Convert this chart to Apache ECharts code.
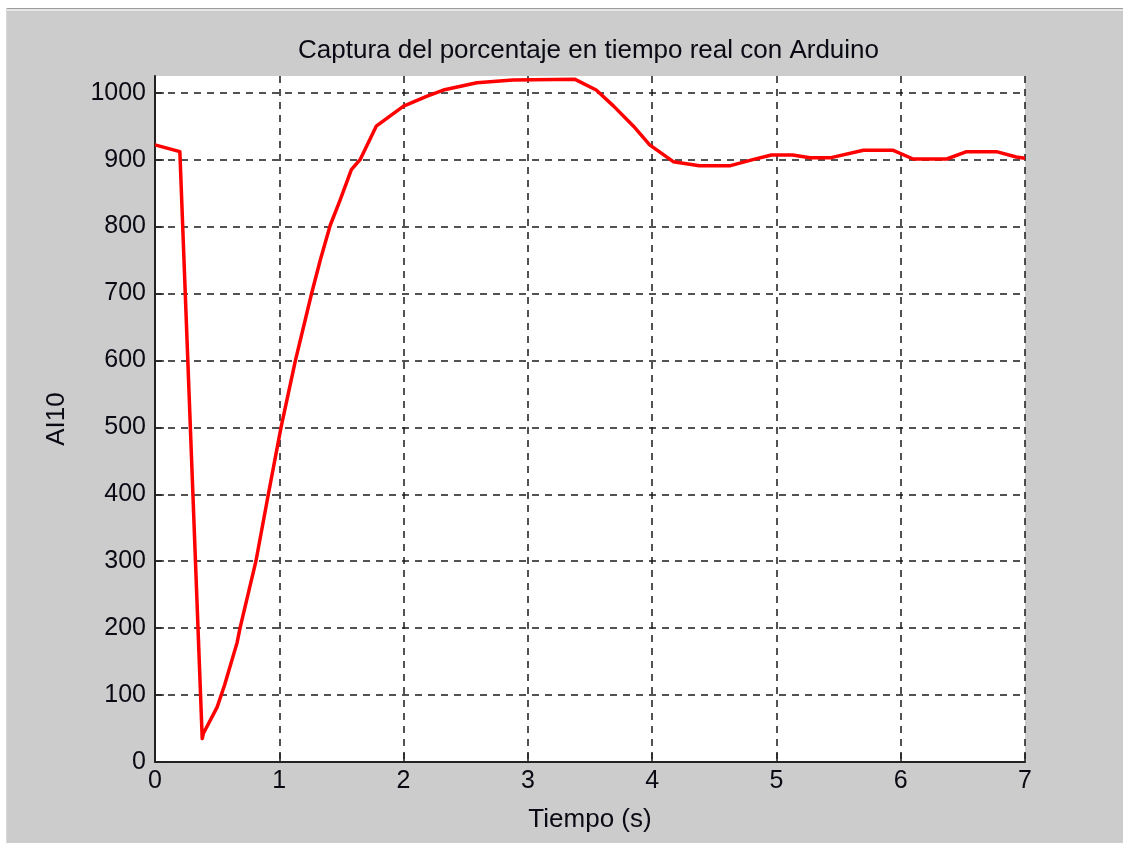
<!DOCTYPE html>
<html>
<head>
<meta charset="utf-8">
<script src="https://cdn.jsdelivr.net/npm/echarts@6/dist/echarts.min.js"></script>
<style>
  html, body { margin: 0; padding: 0; background: #ffffff; width: 1123px; height: 843px; overflow: hidden; }
  #frame { position: absolute; left: 6px; top: 8px; right: 0; bottom: 0;
    background: linear-gradient(#9c9c9c 0px, #9c9c9c 1px, #e6e6e6 1px, #e6e6e6 3px, #cccccc 3px);
    border-left: 1px solid #dadada; }
  #chart { position: absolute; left: 0; top: 0; width: 1123px; height: 843px; }
</style>
</head>
<body>
<div id="frame"></div>
<div id="chart"></div>
<script>
// Data
const timeValues = [0, 0.2, 0.38, 0.39, 0.5, 0.56, 0.66, 0.684, 0.812, 0.912, 1.014, 1.13, 1.26, 1.33, 1.41, 1.49, 1.58, 1.65, 1.78, 2.0, 2.19, 2.32, 2.59, 2.88, 3.38, 3.55, 3.69, 3.85, 3.98, 4.17, 4.38, 4.63, 4.81, 4.96, 5.13, 5.27, 5.44, 5.70, 5.94, 6.10, 6.37, 6.53, 6.77, 6.93, 7.0];
const ai10Values = [922, 912, 35, 43, 82, 115, 178, 200, 300, 400, 500, 600, 700, 750, 802, 840, 885, 900, 950, 980, 995, 1004, 1015, 1019, 1020, 1004, 980, 950, 922, 897, 891, 891, 900, 907, 907, 903, 903, 914, 914, 901, 901, 912, 912, 904, 902];
const xTicks = [0, 1, 2, 3, 4, 5, 6, 7];
const yTicks = [0, 100, 200, 300, 400, 500, 600, 700, 800, 900, 1000];
const titleText = 'Captura del porcentaje en tiempo real con Arduino';
const xName = 'Tiempo (s)';
const yName = 'AI10';

const FONT = '"Liberation Sans", Arial, sans-serif';
const TEXT = '#0a0a14';
const lineData = timeValues.map((t, i) => [t, ai10Values[i]]);

const chart = echarts.init(document.getElementById('chart'), null, { renderer: 'canvas' });
chart.setOption({
  animation: false,
  backgroundColor: 'transparent',
  title: {
    text: titleText,
    left: 293,
    top: 33,
    textStyle: { fontFamily: FONT, fontSize: 26, fontWeight: 'normal', color: TEXT }
  },
  grid: {
    left: 155, right: 98, top: 76, bottom: 81,
    show: true, backgroundColor: '#ffffff', borderWidth: 0
  },
  xAxis: {
    type: 'value',
    min: xTicks[0], max: xTicks[xTicks.length - 1], interval: 1,
    name: xName, nameLocation: 'middle', nameGap: 45,
    nameTextStyle: { fontFamily: FONT, fontSize: 26, color: TEXT },
    axisLine: { show: true, onZero: false, lineStyle: { color: '#222', width: 2 } },
    axisTick: { show: true, inside: true, length: 9, lineStyle: { color: '#222', width: 1.5 }, customValues: xTicks },
    axisLabel: { margin: 7, fontFamily: FONT, fontSize: 25, color: TEXT, customValues: xTicks, formatter: v => String(v) },
    splitLine: { show: true, showMinLine: false, showMaxLine: true, lineStyle: { color: '#1a1a1a', width: 1.5, type: [7, 6] } }
  },
  yAxis: {
    type: 'value',
    min: 0, max: 1025, interval: 100,
    name: yName, nameLocation: 'middle', nameGap: 85, nameRotate: 90,
    nameTextStyle: { fontFamily: FONT, fontSize: 26, color: TEXT },
    axisLine: { show: true, onZero: false, lineStyle: { color: '#222', width: 2 } },
    axisTick: { show: true, inside: true, length: 9, lineStyle: { color: '#222', width: 1.5 }, customValues: yTicks },
    axisLabel: { margin: 9, fontFamily: FONT, fontSize: 25, color: TEXT, customValues: yTicks, formatter: v => String(v) },
    splitLine: { show: true, showMinLine: false, showMaxLine: true, lineStyle: { color: '#1a1a1a', width: 1.5, type: [7, 6] } }
  },
  series: [{
    type: 'line',
    data: lineData,
    showSymbol: false,
    clip: true,
    lineStyle: { color: '#ff0000', width: 3.5, join: 'round' }
  }]
});
</script>
</body>
</html>
